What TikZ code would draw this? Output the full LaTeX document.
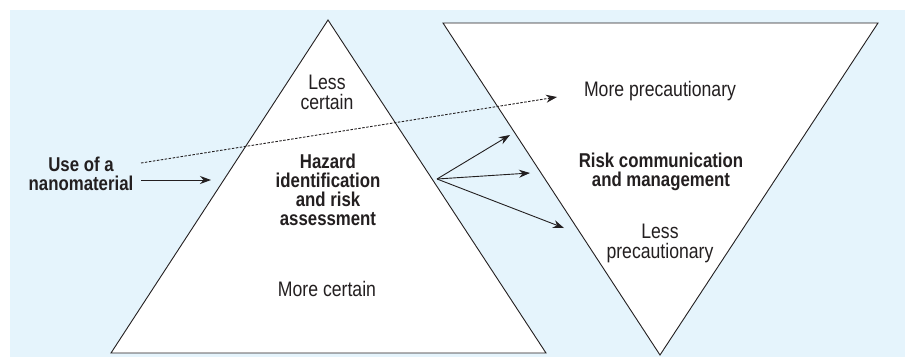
\documentclass[tikz,border=0pt]{standalone}
\usepackage{fontspec}
\setmainfont{Liberation Sans}[FakeStretch=0.84]
\usetikzlibrary{arrows.meta}
\definecolor{panel}{HTML}{E5F4FC}
\definecolor{ink}{HTML}{231F20}
\begin{document}
\begin{tikzpicture}[x=1pt,y=-1pt,
  outline/.style={draw=ink,line width=0.9pt,fill=white,line join=miter},
  plain/.style={text=ink,align=center,inner sep=0pt,font=\fontsize{21}{20}\selectfont},
  heavy/.style={text=ink,align=center,inner sep=0pt,font=\fontsize{20}{19}\selectfont\bfseries},
  link/.style={draw=ink,line width=0.9pt,-{Stealth[length=11pt,width=8pt]}},
  hint/.style={link,dash pattern=on 2.5pt off 1.5pt}]
\useasboundingbox (0,0) rectangle (905,357);
\fill[panel] (10,10) rectangle (905,357);

% upright triangle: hazard identification
\coordinate (upL) at (111,353);
\coordinate (upR) at (546,353);
\coordinate (upT) at (328,20);
\draw[outline] (upL) -- (upR) -- (upT) -- cycle;

% inverted triangle: risk communication
\coordinate (dnL) at (443,23);
\coordinate (dnR) at (878,23);
\coordinate (dnB) at (660,355);
\draw[outline] (dnL) -- (dnR) -- (dnB) -- cycle;

% labels
\node[plain] (lesscert) at (327,92) {Less\\certain};
\node[plain] (morecert) at (327,289) {More certain};
\node[heavy] (hazard) at (328,190) {Hazard\\identification\\and risk\\assessment};
\node[heavy] (riskcom) at (661,172) {Risk communication\\and management};
\node[plain] (moreprec) at (660,91) {More precautionary};
\node[plain] (lessprec) at (660,243) {Less\\precautionary};
\node[heavy] (use) at (81,174) {Use of a\\nanomaterial};

% connectors
\coordinate (useSolid) at (141,180);
\coordinate (useDot) at (141,163);
\coordinate (inHazard) at (211,180);
\coordinate (toMore) at (557,97);
\coordinate (fan) at (437,179);
\coordinate (fanUp) at (510,135);
\coordinate (fanMid) at (530,173);
\coordinate (fanDown) at (564,228);

\draw[link] (useSolid) -- (inHazard);
\draw[hint] (useDot) -- (toMore);
\draw[link] (fan) -- (fanUp);
\draw[link] (fan) -- (fanMid);
\draw[link] (fan) -- (fanDown);
\end{tikzpicture}
\end{document}
